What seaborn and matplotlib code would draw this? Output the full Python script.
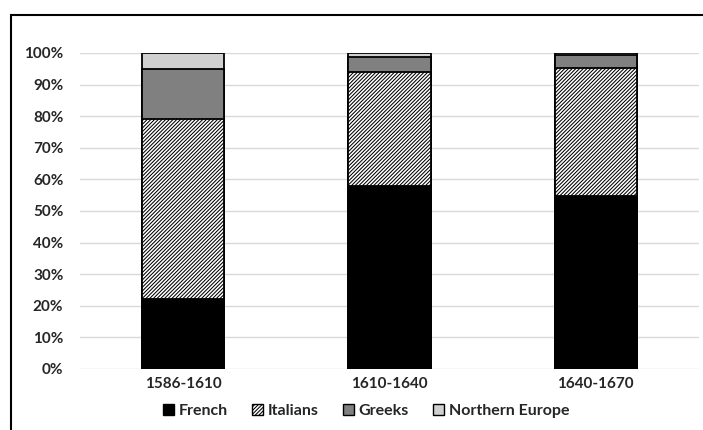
import numpy as np
import pandas as pd
import matplotlib.pyplot as plt
import seaborn as sns
from matplotlib.patches import Rectangle, Patch

periods = ['1586-1610', '1610-1640', '1640-1670']
french = [22.0, 57.8, 54.7]
italians = [57.1, 36.2, 40.6]
greeks = [15.9, 4.6, 4.0]
northern = [5.0, 1.4, 0.7]

groups = ['French', 'Italians', 'Greeks', 'Northern Europe']
colors = ['#000000', '#ffffff', '#808080', '#d0d0d0']
HATCH = '/' * 9

sns.set_style('white')
plt.rcParams['font.family'] = ['Lato', 'DejaVu Sans']
plt.rcParams['font.weight'] = 'bold'
plt.rcParams['hatch.color'] = '#b0b0b0'
plt.rcParams['hatch.linewidth'] = 0.75

fig = plt.figure(figsize=(7.03, 4.30), dpi=100)
ax = fig.add_axes([80 / 703, 1 - 369 / 430, 619 / 703, 316 / 430])

# cumulative tops, drawn from tallest layer down
vals = np.array([french, italians, greeks, northern])
cum = vals.cumsum(axis=0)
for i in range(3, -1, -1):
    df = pd.DataFrame({'period': periods, 'top': cum[i]})
    n_before = len(ax.patches)
    sns.barplot(data=df, x='period', y='top', color=colors[i], saturation=1,
                width=0.40, edgecolor='black', linewidth=1.3, ax=ax)
    if groups[i] == 'Italians':
        for p in ax.patches[n_before:]:
            p.set_hatch(HATCH)

ax.set_ylim(0, 100)
ax.set_xlim(-0.5, 2.5)
ax.set_yticks(np.arange(0, 101, 10))
ax.set_yticklabels([f'{v}%' for v in range(0, 101, 10)])
ax.yaxis.grid(True, color='#d9d9d9', linewidth=1)
ax.set_axisbelow(True)
for s in ax.spines.values():
    s.set_visible(False)
ax.tick_params(axis='both', length=0, labelsize=11)
ax.tick_params(axis='y', pad=12)
ax.tick_params(axis='x', pad=6)
for t in ax.get_xticklabels() + ax.get_yticklabels():
    t.set_fontweight('bold')
ax.set_xlabel('')
ax.set_ylabel('')

handles = [Patch(facecolor=colors[i], edgecolor='black', linewidth=1,
                 hatch=HATCH if groups[i] == 'Italians' else None)
           for i in range(4)]
fig.legend(handles, groups, loc='center', bbox_to_anchor=(366 / 703, 1 - 411 / 430),
           ncol=4, frameon=False, prop={'size': 11.5, 'weight': 'bold'},
           handlelength=0.7, handleheight=0.7,
           handletextpad=0.3, columnspacing=1.5)

# outer chart border (partially cropped)
fig.patches.append(Rectangle((11 / 703, -0.1), 1.2, 1 - 15 / 430 + 0.1,
                             transform=fig.transFigure, fill=False,
                             edgecolor='black', linewidth=1.5))

fig.savefig('out.png', dpi=100)
